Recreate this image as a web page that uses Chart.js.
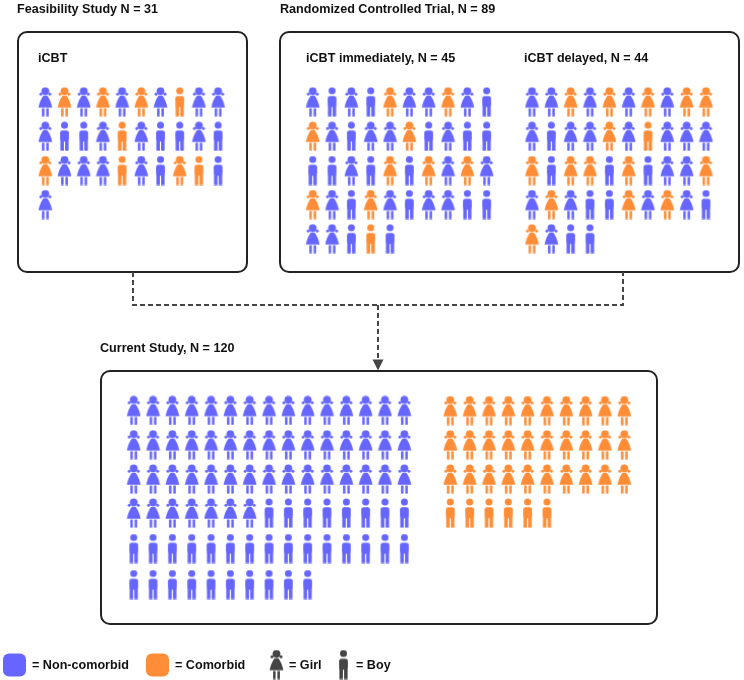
<!DOCTYPE html>
<html>
<head>
<meta charset="utf-8">
<title>Study flow pictogram</title>
<script src="https://cdn.jsdelivr.net/npm/chart.js@4/dist/chart.umd.min.js"></script>
<style>
  html, body { margin: 0; padding: 0; background: #fff; }
  canvas { display: block; }
</style>
</head>
<body>
<canvas id="myChart" width="744" height="680"></canvas>
<script>
// g = girl, b = boy, lower case non-comorbid, upper case comorbid
const feasibility = [
    'g','G','g','G','g','G','g','B','g','g',
    'g','b','b','g','B','g','b','b','g','b',
    'G','g','g','g','B','g','b','G','B','b',
    'g'
];
const immediately = [
    'g','b','g','b','G','g','g','G','g','b',
    'G','g','b','g','g','G','b','g','b','b',
    'b','b','g','b','G','b','G','g','G','g',
    'G','g','b','G','g','b','g','g','b','b',
    'g','g','b','B','b'
];
const delayed = [
    'g','g','G','g','G','g','G','g','G','G',
    'g','b','g','g','G','g','B','g','g','g',
    'G','b','G','G','b','G','b','g','g','G',
    'g','G','g','b','b','G','g','G','g','b',
    'G','g','b','b'
];
const currentGirls = 52;
const currentBoys = 33;
const comorbidGirls = 30;
const comorbidBoys = 6;

const current = [...Array(currentGirls).fill('g'), ...Array(currentBoys).fill('b')];
const comorbid = [...Array(comorbidGirls).fill('G'), ...Array(comorbidBoys).fill('B')];

const BLUE = '#6666ff';
const ORANGE = '#ff8c36';
const GREY = '#454545';
const INK = '#111111';

const smallRows = [101.8, 136.2, 170.5, 204.5, 238.7];
const currentRows = [410.4, 444.7, 479, 513, 548.5, 584.5];
const comorbidRows = [410.6, 444.8, 479, 513];

const blocks = [
    { people: feasibility, left: 45.3, rows: smallRows, perRow: 10, step: 19.2 },
    { people: immediately, left: 312.7, rows: smallRows, perRow: 10, step: 19.33 },
    { people: delayed, left: 532, rows: smallRows, perRow: 10, step: 19.33 },
    { people: current, left: 133.7, rows: currentRows, perRow: 15, step: 19.33 },
    { people: comorbid, left: 450.3, rows: comorbidRows, perRow: 10, step: 19.33 }
];

const panels = [
    { x: 18, y: 32, w: 229, h: 240 },
    { x: 280, y: 32, w: 459, h: 240 },
    { x: 101, y: 371, w: 556, h: 253 }
];

const labels = [
    { text: 'Feasibility Study N = 31', x: 17, y: 9.5 },
    { text: 'Randomized Controlled Trial, N = 89', x: 280, y: 9.5 },
    { text: 'iCBT', x: 38, y: 58.5 },
    { text: 'iCBT immediately, N = 45', x: 306, y: 58.5 },
    { text: 'iCBT delayed, N = 44', x: 524, y: 58.5 },
    { text: 'Current Study, N = 120', x: 100, y: 348.5 },
    { text: '= Non-comorbid', x: 32, y: 666 },
    { text: '= Comorbid', x: 175, y: 666 },
    { text: '= Girl', x: 289, y: 666 },
    { text: '= Boy', x: 356, y: 666 }
];

const swatches = [
    { x: 3, y: 653.5, color: BLUE },
    { x: 146, y: 653.5, color: ORANGE }
];

function girlIcon(color) {
    const c = document.createElement('canvas');
    c.width = 15;
    c.height = 30;
    const g = c.getContext('2d');
    g.fillStyle = color;
    g.beginPath(); g.arc(7.5, 4.3, 3.9, 0, Math.PI * 2); g.fill();
    g.beginPath(); g.arc(3, 7.2, 1.5, 0, Math.PI * 2); g.fill();
    g.beginPath(); g.arc(12, 7.2, 1.5, 0, Math.PI * 2); g.fill();
    g.beginPath();
    g.moveTo(5.6, 8.8);
    g.lineTo(9.4, 8.8);
    g.quadraticCurveTo(12.8, 13.2, 14.4, 20.7);
    g.lineTo(0.6, 20.7);
    g.quadraticCurveTo(2.2, 13.2, 5.6, 8.8);
    g.fill();
    g.fillRect(4.1, 21.5, 2.5, 8.1);
    g.fillRect(8.4, 21.5, 2.5, 8.1);
    return c;
}

function boyIcon(color) {
    const c = document.createElement('canvas');
    c.width = 15;
    c.height = 30;
    const g = c.getContext('2d');
    g.fillStyle = color;
    g.beginPath(); g.arc(7.5, 3.9, 3.5, 0, Math.PI * 2); g.fill();
    g.beginPath();
    g.roundRect(3.1, 9.2, 8.8, 11, 2.4);
    g.fill();
    g.fillRect(3.4, 18.5, 3.5, 11.1);
    g.fillRect(8.1, 18.5, 3.5, 11.1);
    return c;
}

const icons = {
    g: girlIcon(BLUE),
    b: boyIcon(BLUE),
    G: girlIcon(ORANGE),
    B: boyIcon(ORANGE)
};

function pointsFor(code) {
    const pts = [];
    for (let block of blocks) {
        block.people.forEach(function (person, i) {
            if (person !== code) return;
            const col = i % block.perRow;
            const row = Math.floor(i / block.perRow);
            pts.push({ x: block.left + col * block.step, y: block.rows[row] });
        });
    }
    return pts;
}

function peopleDataset(code) {
    return {
        label: code,
        data: pointsFor(code),
        pointStyle: icons[code],
        pointRadius: 8,
        showLine: false
    };
}

function connector(points) {
    return {
        data: points,
        showLine: true,
        pointRadius: 0,
        borderColor: GREY,
        borderWidth: 2,
        borderDash: [5, 3],
        tension: 0,
        fill: false
    };
}

const framePlugin = {
    id: 'frames',
    beforeDatasetsDraw(chart) {
        const ctx = chart.ctx;
        const sx = chart.scales.x, sy = chart.scales.y;
        ctx.save();
        ctx.strokeStyle = '#222222';
        ctx.lineWidth = 2;
        for (let p of panels) {
            ctx.beginPath();
            ctx.roundRect(sx.getPixelForValue(p.x), sy.getPixelForValue(p.y), p.w, p.h, 9);
            ctx.stroke();
        }
        for (let s of swatches) {
            ctx.fillStyle = s.color;
            ctx.beginPath();
            ctx.roundRect(sx.getPixelForValue(s.x), sy.getPixelForValue(s.y), 23, 23, 6);
            ctx.fill();
        }
        ctx.restore();
    },
    afterDatasetsDraw(chart) {
        const ctx = chart.ctx;
        const sx = chart.scales.x, sy = chart.scales.y;
        ctx.save();
        // arrow head on the way into the current study box
        ctx.fillStyle = GREY;
        ctx.beginPath();
        ctx.moveTo(sx.getPixelForValue(372.5), sy.getPixelForValue(359.5));
        ctx.lineTo(sx.getPixelForValue(383.5), sy.getPixelForValue(359.5));
        ctx.lineTo(sx.getPixelForValue(378), sy.getPixelForValue(370.5));
        ctx.fill();
        ctx.fillStyle = INK;
        ctx.font = 'bold 12.6px "Liberation Sans", Arial, sans-serif';
        ctx.textBaseline = 'middle';
        for (let l of labels) {
            ctx.fillText(l.text, sx.getPixelForValue(l.x), sy.getPixelForValue(l.y));
        }
        ctx.restore();
    }
};

const ctx = document.getElementById('myChart').getContext('2d');
const myChart = new Chart(ctx, {
    type: 'scatter',
    data: {
        datasets: [
            connector([{ x: 133, y: 272 }, { x: 133, y: 305 }, { x: 623, y: 305 }, { x: 623, y: 272 }]),
            connector([{ x: 378, y: 305 }, { x: 378, y: 360 }]),
            peopleDataset('g'),
            peopleDataset('b'),
            peopleDataset('G'),
            peopleDataset('B'),
            {
                label: 'legend girl',
                data: [{ x: 276.5, y: 664.5 }],
                pointStyle: girlIcon(GREY),
                pointRadius: 8
            },
            {
                label: 'legend boy',
                data: [{ x: 343.5, y: 664.5 }],
                pointStyle: boyIcon(GREY),
                pointRadius: 8
            }
        ]
    },
    options: {
        responsive: false,
        animation: false,
        devicePixelRatio: 1,
        layout: { padding: 0, autoPadding: false },
        clip: false,
        scales: {
            x: { type: 'linear', min: 0, max: 744, display: false },
            y: { type: 'linear', min: 0, max: 680, reverse: true, display: false }
        },
        plugins: {
            legend: { display: false },
            title: { display: false },
            tooltip: { enabled: false }
        }
    },
    plugins: [framePlugin]
});
</script>
</body>
</html>
